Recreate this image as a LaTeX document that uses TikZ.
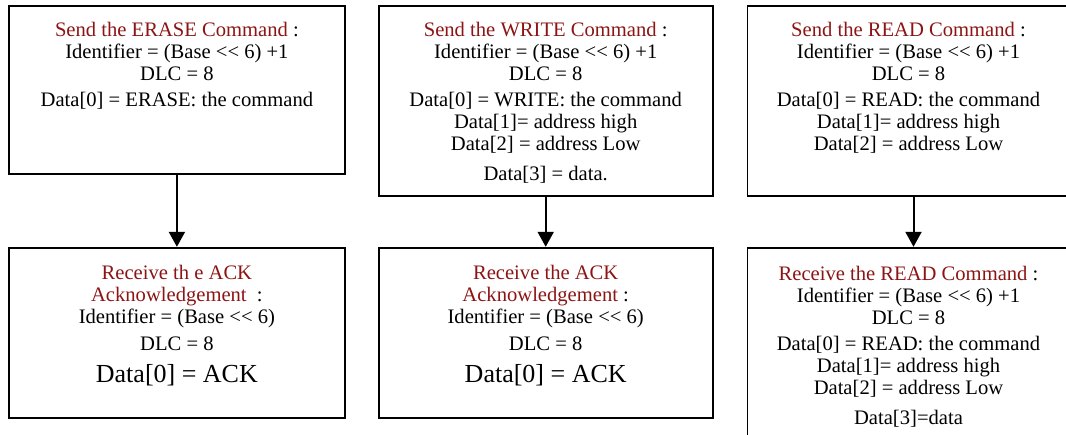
\documentclass[tikz,border=0pt]{standalone}
\usepackage{fontspec}
\setmainfont{Liberation Serif}
\usepackage{xcolor}
\usetikzlibrary{arrows.meta,positioning}
\definecolor{CANred}{RGB}{140,20,20}
\newcommand{\ttl}[1]{\textcolor{CANred}{#1}}

\begin{document}
\begin{tikzpicture}[
    node distance=16pt,
    frame/.style={
      draw,
      line width=0.9pt,
      inner sep=0pt
    },
    txt/.style={
      align=center,
      inner sep=0pt,
      font=\fontsize{10.3}{11}\selectfont
    },
    arrow/.style={-{Triangle[length=7.5pt,width=8pt]}, line width=1pt}
  ]
    \useasboundingbox (0,0) rectangle (533pt,-217pt);

    \node[frame, minimum width=168pt, minimum height=84pt, anchor=north west]
      (erase) at (4pt,-2.5pt) {};
    \node[frame, minimum width=167pt, minimum height=95pt,
      right=16pt of erase.north east, anchor=north west] (write) {};
    \node[frame, minimum width=161pt, minimum height=95pt,
      right=16.5pt of write.north east, anchor=north west] (read) {};

    \node[frame, minimum width=168pt, minimum height=85pt, below=36pt of erase]
      (eraseack) {};
    \node[frame, minimum width=167pt, minimum height=85pt, below=25pt of write]
      (writeack) {};
    \node[frame, minimum width=161pt, minimum height=110pt, below=25pt of read]
      (readreply) {};

    \node[txt, below=8.5pt of erase.north] (erasetxt)
      {\ttl{Send the ERASE Command} :\\ Identifier = (Base <{}< 6) +1\\
       DLC = 8\\[2pt] Data[0] = ERASE: the command};
    \node[txt, below=8.5pt of write.north] (writetxt)
      {\ttl{Send the WRITE Command} :\\ Identifier = (Base <{}< 6) +1\\
       DLC = 8\\[2pt] Data[0] = WRITE: the command\\ Data[1]= address high\\
       Data[2] = address Low\\[4pt] Data[3] = data.};
    \node[txt, below=8.5pt of read.north] (readtxt)
      {\ttl{Send the READ Command} :\\ Identifier = (Base <{}< 6) +1\\
       DLC = 8\\[2pt] Data[0] = READ: the command\\ Data[1]= address high\\
       Data[2] = address Low};

    \node[txt, below=9pt of eraseack.north] (eraseacktxt)
      {\ttl{Receive th e ACK}\\ \ttl{Acknowledgement}\ \ :\\
       Identifier = (Base <{}< 6)\\[2.5pt] DLC = 8\\[5pt]
       {\fontsize{13}{13}\selectfont Data[0] = ACK}};
    \node[txt, below=9pt of writeack.north] (writeacktxt)
      {\ttl{Receive the ACK}\\ \ttl{Acknowledgement} :\\
       Identifier = (Base <{}< 6)\\[2.5pt] DLC = 8\\[5pt]
       {\fontsize{13}{13}\selectfont Data[0] = ACK}};
    \node[txt, below=9.5pt of readreply.north] (readreplytxt)
      {\ttl{Receive the READ Command} :\\ Identifier = (Base <{}< 6) +1\\
       DLC = 8\\[2pt] Data[0] = READ: the command\\ Data[1]= address high\\
       Data[2] = address Low\\[4pt] Data[3]=data};

    \draw[arrow] (erase) -- (eraseack);
    \draw[arrow] (write) -- (writeack);
    \draw[arrow] ([xshift=2.5pt]read.south) -- ([xshift=2.5pt]readreply.north);
  \end{tikzpicture}
\end{document}
